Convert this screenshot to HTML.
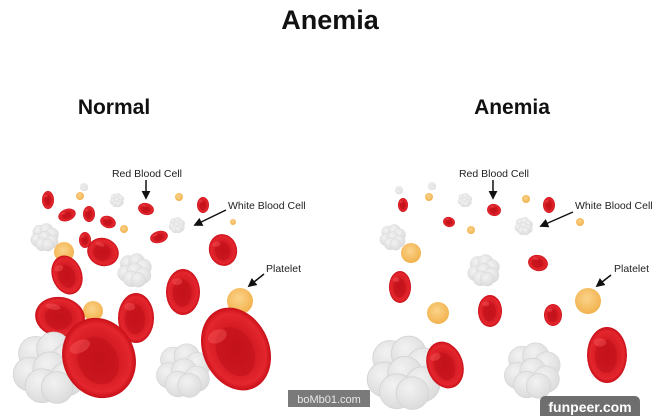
<!DOCTYPE html>
<html><head><meta charset="utf-8"><style>
html,body{margin:0;padding:0;background:#fff;}
svg{display:block;}
text{font-family:"Liberation Sans",sans-serif;}
</style></head><body>
<svg width="660" height="416" viewBox="0 0 660 416" xmlns="http://www.w3.org/2000/svg">
<defs>
<radialGradient id="rg" cx="0.5" cy="0.5" r="0.5">
<stop offset="0" stop-color="#c8141c"/><stop offset="0.55" stop-color="#d61c24"/><stop offset="0.85" stop-color="#e4262e"/><stop offset="1" stop-color="#c80f18"/>
</radialGradient>
<radialGradient id="pg" cx="0.45" cy="0.4" r="0.6">
<stop offset="0" stop-color="#fbd38a"/><stop offset="1" stop-color="#f2b24e"/>
</radialGradient>
<radialGradient id="wg" cx="0.4" cy="0.35" r="0.7">
<stop offset="0" stop-color="#f2f2f2"/><stop offset="1" stop-color="#dadada"/>
</radialGradient>
<g id="rbc"><ellipse cx="0" cy="0" rx="1" ry="1" fill="url(#rg)"/><ellipse cx="-0.05" cy="0.05" rx="0.55" ry="0.6" fill="#c0101a" opacity="0.55"/><ellipse cx="-0.35" cy="-0.45" rx="0.3" ry="0.15" fill="#ff6a6a" opacity="0.35"/></g>
<g id="wbc" fill="url(#wg)" stroke="#d4d4d4" stroke-width="0.025">
<circle cx="-0.4" cy="-0.38" r="0.47"/><circle cx="0.1" cy="-0.5" r="0.47"/><circle cx="0.5" cy="-0.18" r="0.47"/><circle cx="-0.55" cy="0.2" r="0.47"/><circle cx="0" cy="0.05" r="0.47"/><circle cx="0.47" cy="0.33" r="0.47"/><circle cx="-0.22" cy="0.52" r="0.47"/><circle cx="0.2" cy="0.57" r="0.44"/>
</g>
<marker id="ar" viewBox="0 0 10 10" refX="8" refY="5" markerWidth="6" markerHeight="6" orient="auto"><path d="M0,0 L10,5 L0,10 z" fill="#111"/></marker>
</defs>

<text x="330" y="29" text-anchor="middle" font-size="27" font-weight="bold" fill="#111">Anemia</text>
<text x="114" y="114" text-anchor="middle" font-size="21" font-weight="bold" fill="#111">Normal</text>
<text x="512" y="114" text-anchor="middle" font-size="21" font-weight="bold" fill="#111">Anemia</text>

<!-- LEFT -->
<use href="#wbc" transform="translate(84,187) scale(4)"/>
<use href="#wbc" transform="translate(117,200) scale(7)"/>
<use href="#wbc" transform="translate(45,237) scale(14)"/>
<use href="#wbc" transform="translate(177,225) scale(8)"/>
<use href="#wbc" transform="translate(135,270) scale(17)"/>
<circle cx="80" cy="196" r="4" fill="url(#pg)"/>
<circle cx="124" cy="229" r="4" fill="url(#pg)"/>
<circle cx="179" cy="197" r="4" fill="url(#pg)"/>
<circle cx="233" cy="222" r="3" fill="url(#pg)"/>
<circle cx="64" cy="252" r="10" fill="url(#pg)"/>
<circle cx="93" cy="311" r="10" fill="url(#pg)"/>
<circle cx="240" cy="301" r="13" fill="url(#pg)"/>
<use href="#rbc" transform="translate(48,200) scale(6,9)"/>
<use href="#rbc" transform="translate(67,215) rotate(-20) scale(9,6)"/>
<use href="#rbc" transform="translate(89,214) scale(6,8)"/>
<use href="#rbc" transform="translate(108,222) rotate(20) scale(8,6)"/>
<use href="#rbc" transform="translate(85,240) scale(6,8)"/>
<use href="#rbc" transform="translate(103,252) rotate(20) scale(16,14)"/>
<use href="#rbc" transform="translate(146,209) rotate(15) scale(8,6)"/>
<use href="#rbc" transform="translate(159,237) rotate(-15) scale(9,6)"/>
<use href="#rbc" transform="translate(203,205) scale(6,8)"/>
<use href="#rbc" transform="translate(223,250) rotate(-15) scale(14,16)"/>
<use href="#rbc" transform="translate(67,275) rotate(-20) scale(15,20)"/>
<use href="#rbc" transform="translate(183,292) scale(17,23)"/>
<use href="#rbc" transform="translate(60,317) rotate(10) scale(25,20)"/>
<use href="#rbc" transform="translate(136,318) scale(18,25)"/>
<use href="#wbc" transform="translate(50,367) scale(36)"/>
<use href="#wbc" transform="translate(184,370) scale(27)"/>
<use href="#rbc" transform="translate(99,358) rotate(-25) scale(36,41)"/>
<use href="#rbc" transform="translate(236,349) rotate(-25) scale(33,43)"/>

<text x="147" y="177" text-anchor="middle" font-size="10.5" fill="#222">Red Blood Cell</text>
<line x1="146" y1="180" x2="146" y2="198" stroke="#111" stroke-width="1.5" marker-end="url(#ar)"/>
<text x="228" y="209" font-size="10.5" fill="#222">White Blood Cell</text>
<line x1="226" y1="210" x2="195" y2="225" stroke="#111" stroke-width="1.5" marker-end="url(#ar)"/>
<text x="266" y="272" font-size="10.5" fill="#222">Platelet</text>
<line x1="264" y1="274" x2="249" y2="286" stroke="#111" stroke-width="1.5" marker-end="url(#ar)"/>

<!-- RIGHT -->
<use href="#wbc" transform="translate(399,190) scale(4)"/>
<use href="#wbc" transform="translate(432,186) scale(4)"/>
<use href="#wbc" transform="translate(465,200) scale(7)"/>
<use href="#wbc" transform="translate(524,226) scale(9)"/>
<use href="#wbc" transform="translate(393,237) scale(13)"/>
<use href="#wbc" transform="translate(484,270) scale(16)"/>
<circle cx="429" cy="197" r="4" fill="url(#pg)"/>
<circle cx="526" cy="199" r="4" fill="url(#pg)"/>
<circle cx="471" cy="230" r="4" fill="url(#pg)"/>
<circle cx="580" cy="222" r="4" fill="url(#pg)"/>
<circle cx="411" cy="253" r="10" fill="url(#pg)"/>
<circle cx="438" cy="313" r="11" fill="url(#pg)"/>
<circle cx="588" cy="301" r="13" fill="url(#pg)"/>
<use href="#rbc" transform="translate(403,205) scale(5,7)"/>
<use href="#rbc" transform="translate(449,222) rotate(15) scale(6,5)"/>
<use href="#rbc" transform="translate(494,210) rotate(15) scale(7,6)"/>
<use href="#rbc" transform="translate(549,205) scale(6,8)"/>
<use href="#rbc" transform="translate(538,263) rotate(15) scale(10,8)"/>
<use href="#rbc" transform="translate(400,287) scale(11,16)"/>
<use href="#rbc" transform="translate(490,311) scale(12,16)"/>
<use href="#rbc" transform="translate(553,315) scale(9,11)"/>
<use href="#wbc" transform="translate(405,372) scale(37)"/>
<use href="#wbc" transform="translate(533,370) scale(28)"/>
<use href="#rbc" transform="translate(445,365) rotate(-20) scale(18,24)"/>
<use href="#rbc" transform="translate(607,355) scale(20,28)"/>

<text x="494" y="177" text-anchor="middle" font-size="10.5" fill="#222">Red Blood Cell</text>
<line x1="493" y1="180" x2="493" y2="198" stroke="#111" stroke-width="1.5" marker-end="url(#ar)"/>
<text x="575" y="209" font-size="10.5" fill="#222">White Blood Cell</text>
<line x1="573" y1="212" x2="541" y2="226" stroke="#111" stroke-width="1.5" marker-end="url(#ar)"/>
<text x="614" y="272" font-size="10.5" fill="#222">Platelet</text>
<line x1="611" y1="275" x2="597" y2="286" stroke="#111" stroke-width="1.5" marker-end="url(#ar)"/>

<!-- watermarks -->
<rect x="288" y="390" width="82" height="17" fill="#7a7a7a"/>
<text x="329" y="403" text-anchor="middle" font-size="11" fill="#e8e8e8" font-family="Liberation Mono,monospace">boMb01.com</text>
<rect x="540" y="396" width="100" height="26" rx="5" fill="#6e6e6e"/>
<text x="590" y="412" text-anchor="middle" font-size="14" font-weight="bold" fill="#fff">funpeer.com</text>
</svg>
</body></html>
